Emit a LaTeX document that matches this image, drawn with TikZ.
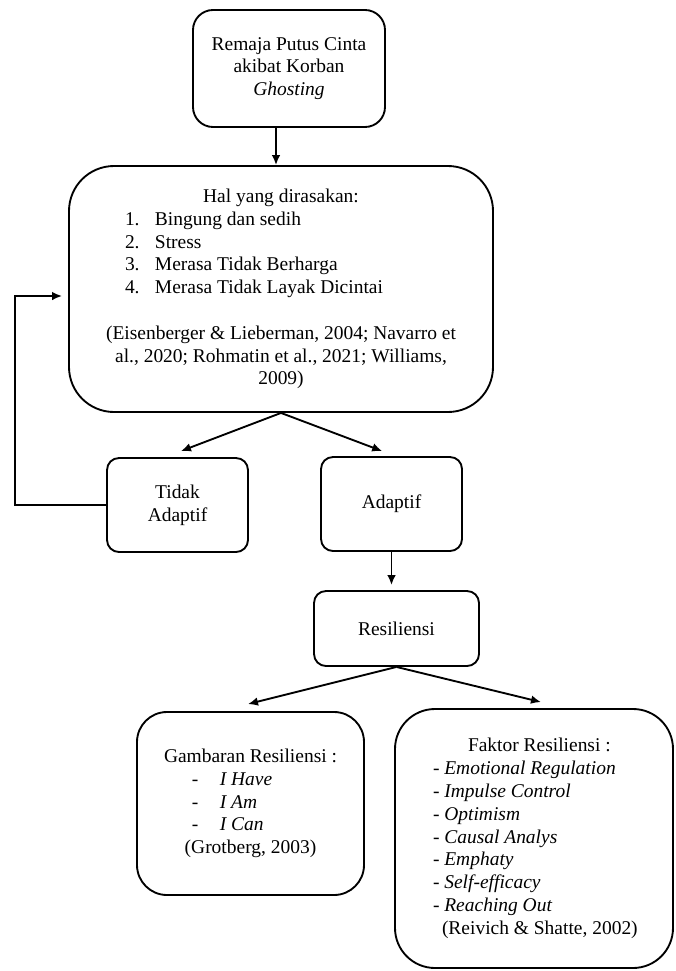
\documentclass[tikz,border=0pt]{standalone}
\usepackage{fontspec}
\setmainfont{Liberation Serif}
\usetikzlibrary{arrows.meta}
\newcommand{\listrow}[3]{\makebox[#1][l]{\hspace*{#2}#3}}

\begin{document}
\begin{tikzpicture}[x=0.75pt, y=-0.75pt, >={Latex[length=7.5pt,width=6.5pt]},
  box/.style={draw, line width=1.4pt, align=center, inner sep=0pt,
    font=\fontsize{14.6}{17.1}\selectfont},
  link/.style={->, line width=1.4pt}]
\useasboundingbox (0,0) rectangle (675,971);

% the boxes
\node[box, rounded corners=15pt, minimum width=144pt, minimum height=87.75pt] (ghost) at (289,68.5)
  {Remaja Putus Cinta\\akibat Korban\\\textit{Ghosting}};
\node[box, rounded corners=33.75pt, minimum width=318pt, minimum height=184.5pt] (feel) at (281,289)
  {Hal yang dirasakan:\\
   \listrow{285pt}{25.5pt}{\makebox[22.5pt][l]{1.}Bingung dan sedih}\\
   \listrow{285pt}{25.5pt}{\makebox[22.5pt][l]{2.}Stress}\\
   \listrow{285pt}{25.5pt}{\makebox[22.5pt][l]{3.}Merasa Tidak Berharga}\\
   \listrow{285pt}{25.5pt}{\makebox[22.5pt][l]{4.}Merasa Tidak Layak Dicintai}\\[17.1pt]
   (Eisenberger \& Lieberman, 2004; Navarro et\\
   al., 2020; Rohmatin et al., 2021; Williams,\\
   2009)};
\node[box, rounded corners=9pt, minimum width=105.75pt, minimum height=70.5pt] (tidak) at (177.5,505)
  {Tidak\\Adaptif};
\node[box, rounded corners=9pt, minimum width=105.75pt, minimum height=70.5pt] (adaptif) at (391.5,504)
  {Adaptif};
\node[box, rounded corners=9pt, minimum width=123.75pt, minimum height=56.25pt] (resil) at (396.5,628.5)
  {Resiliensi};
\node[box, rounded corners=22.5pt, minimum width=170.25pt, minimum height=137.25pt] (gambar) at (250.5,803.5)
  {Gambaran Resiliensi :\\
   \listrow{150pt}{31pt}{\makebox[21pt][l]{-}\textit{I Have}}\\
   \listrow{150pt}{31pt}{\makebox[21pt][l]{-}\textit{I Am}}\\
   \listrow{150pt}{31pt}{\makebox[21pt][l]{-}\textit{I Can}}\\
   (Grotberg, 2003)};
\node[box, rounded corners=30pt, minimum width=208.5pt, minimum height=194.25pt] (faktor) at (534,838.5)
  {\listrow{180pt}{40.5pt}{Faktor Resiliensi :}\\
   \listrow{180pt}{14.25pt}{- \textit{Emotional Regulation}}\\
   \listrow{180pt}{14.25pt}{- \textit{Impulse Control}}\\
   \listrow{180pt}{14.25pt}{- \textit{Optimism}}\\
   \listrow{180pt}{14.25pt}{- \textit{Causal Analys}}\\
   \listrow{180pt}{14.25pt}{- \textit{Emphaty}}\\
   \listrow{180pt}{14.25pt}{- \textit{Self-efficacy}}\\
   \listrow{180pt}{14.25pt}{- \textit{Reaching Out}}\\
   \listrow{180pt}{21pt}{(Reivich \& Shatte, 2002)}};

% the arrows
\draw[link] ([xshift=-9.75pt]ghost.south) -- ([xshift=-9.75pt]ghost.south |- feel.north);
\draw[link] (feel.south) -- ([xshift=2.6pt,yshift=4.5pt]tidak.north);
\draw[link] (feel.south) -- ([xshift=-7pt,yshift=3.75pt]adaptif.north);
\draw[link] (adaptif.south) -- ([yshift=3.75pt]adaptif.south |- resil.north);
\draw[link] (resil.south) -- ([xshift=-1.9pt,yshift=5.25pt]gambar.north);
\draw[link] (resil.south) -- ([xshift=5.25pt,yshift=4.5pt]faktor.north);

% back to the feelings
\coordinate (back) at (15,296);
\draw[link, shorten >=4.5pt] (tidak.west) -- (tidak.west -| back) -- (back) -- (back -| feel.west);
\end{tikzpicture}
\end{document}
